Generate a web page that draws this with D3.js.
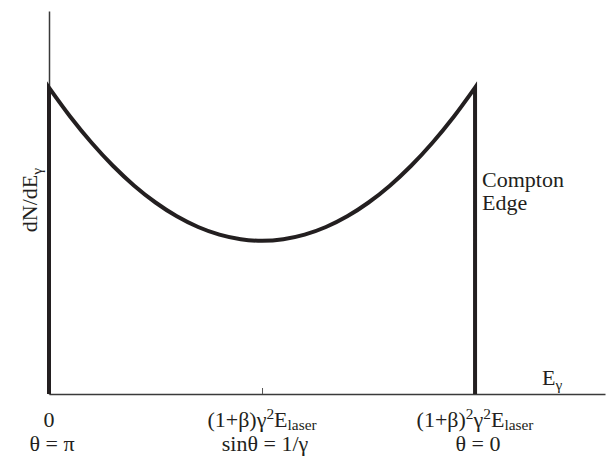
<!DOCTYPE html>
<html>
<head>
<meta charset="utf-8">
<script src="https://cdn.jsdelivr.net/npm/d3@7"></script>
<style>
  html, body { margin: 0; padding: 0; background: #fff; }
</style>
</head>
<body>
<svg id="chart" width="616" height="458"></svg>
<script>
// ---- data ----
// photon energy as a fraction of the Compton edge energy
const energyFrac = [0, 0.05, 0.1, 0.15, 0.2, 0.25, 0.3, 0.35, 0.4, 0.45, 0.5,
                    0.55, 0.6, 0.65, 0.7, 0.75, 0.8, 0.85, 0.9, 0.95, 1];
// relative dN/dE_gamma
const dNdE = [1.0, 0.905, 0.82, 0.745, 0.68, 0.625, 0.58, 0.545, 0.52, 0.505, 0.5,
              0.505, 0.52, 0.545, 0.58, 0.625, 0.68, 0.745, 0.82, 0.905, 1.0];
const tickValues = [0, 0.5, 1];
// tick labels as [text, position] segments: position "" normal, "sup", "sub"
const tickLabelsLine1 = [
  [["0", ""]],
  [["(1+β)γ", ""], ["2", "sup"], ["E", ""], ["laser", "sub"]],
  [["(1+β)", ""], ["2", "sup"], ["γ", ""], ["2", "sup"], ["E", ""], ["laser", "sub"]]
];
const tickLabelsLine2 = ["θ = π", "sinθ = 1/γ", "θ = 0"];
const xTitle = [["E", ""], ["γ", "sub"]];
const yTitle = [["dN/dE", ""], ["γ", "sub"]];
const edgeLabel = ["Compton", "Edge"];

// ---- drawing ----
const FONT = "Liberation Serif";
const svg = d3.select("#chart");
const x = d3.scaleLinear().domain([0, 1.305]).range([49, 605]);
const y = d3.scaleLinear().domain([0, 1.25]).range([394, 11]);

const ink = "#231f20";

// y axis (thin line, no ticks)
svg.append("g")
  .attr("transform", `translate(${x(0)},0)`)
  .call(d3.axisLeft(y).tickValues([]).tickSize(0))
  .call(g => g.select(".domain").attr("stroke", "#3a3a3a").attr("stroke-width", 1.5));

// x axis (thin line, inward ticks)
const xAxis = svg.append("g")
  .attr("transform", `translate(0,${y(0)})`)
  .call(d3.axisBottom(x).tickValues(tickValues).tickSizeInner(-6).tickSizeOuter(0).tickFormat(""));
xAxis.select(".domain").attr("stroke", "#3a3a3a").attr("stroke-width", 1.5);
xAxis.selectAll(".tick line").attr("stroke", "#555").attr("stroke-width", 1);

// spectrum: vertical rise at 0, smooth curve, vertical drop at the Compton edge
const curvePts = energyFrac.map((e, i) => [e, dNdE[i]]);
const curveD = d3.line().x(d => x(d[0])).y(d => y(d[1])).curve(d3.curveCatmullRom)(curvePts);
const pathD = `M${x(0)},${y(0)}` + curveD.replace(/^M/, "L") + `L${x(1)},${y(0)}`;
svg.append("path")
  .attr("fill", "none")
  .attr("stroke", ink)
  .attr("stroke-width", 4)
  .attr("stroke-linejoin", "miter")
  .attr("stroke-miterlimit", 10)
  .attr("d", pathD);

// helper for rich text with sub/superscripts
function rich(sel, segs, size, subShift) {
  let shift = 0;
  segs.forEach(([t, pos]) => {
    const target = pos === "sup" ? -8 : pos === "sub" ? subShift : 0;
    sel.append("tspan")
      .attr("dy", target - shift)
      .attr("font-size", pos ? size * 0.7 : size)
      .attr("font-family", FONT)
      .text(t);
    shift = target;
  });
}

const fs = 22;
function txt() {
  return svg.append("text").attr("font-family", FONT).attr("fill", ink).attr("font-size", fs);
}

// tick labels
tickValues.forEach((v, i) => {
  const t1 = txt().attr("x", x(v)).attr("y", 427).attr("text-anchor", "middle");
  rich(t1, tickLabelsLine1[i], fs, 3);
  txt().attr("x", x(v) + 3).attr("y", 451)
    .attr("text-anchor", "middle")
    .text(tickLabelsLine2[i]);
});

// x title
const xt = txt().attr("x", 542).attr("y", 385);
rich(xt, xTitle, fs, 5);

// y title
const yt = txt().attr("transform", "translate(37,200) rotate(-90)").attr("text-anchor", "middle");
rich(yt, yTitle, fs, 5);

// Compton edge label
edgeLabel.forEach((s, i) => {
  txt().attr("x", x(1) + 7).attr("y", 187 + i * 23).text(s);
});
</script>
</body>
</html>
